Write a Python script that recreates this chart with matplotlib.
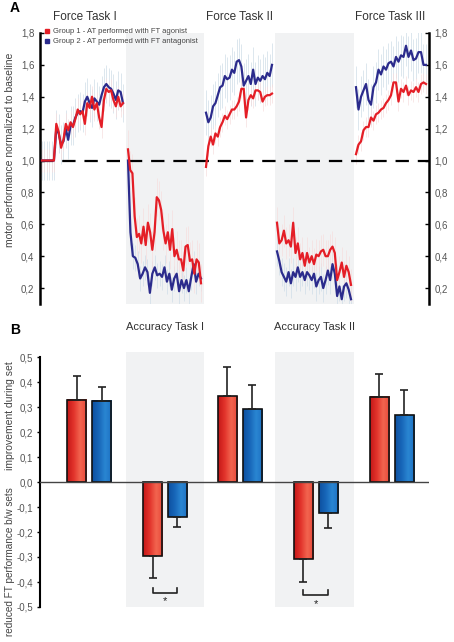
import numpy as np
import matplotlib.pyplot as plt
from matplotlib.colors import LinearSegmentedColormap
from matplotlib.lines import Line2D
from matplotlib.patches import Rectangle
from matplotlib.ticker import FuncFormatter

plt.rcParams['font.family'] = ['Liberation Sans', 'DejaVu Sans']

# ---------------- panel A: motor performance normalized to baseline ----------------
block_edges = [0, 86, 164, 235, 314, 389]
force_titles = ['Force Task I', 'Force Task II', 'Force Task III']

# group 1 (AT with FT agonist), one list per block
g1_blocks = [
    [1.00, 1.00, 1.00, 1.00, 1.00, 1.00, 1.23, 1.18, 1.08, 1.13, 1.23, 1.19, 1.24, 1.21,
     1.26, 1.32, 1.29, 1.31, 1.23, 1.36, 1.33, 1.40, 1.32, 1.36, 1.27, 1.21, 1.38, 1.45,
     1.43, 1.44, 1.38, 1.34, 1.40, 1.34, 1.36],
    [1.07, 0.94, 0.92, 0.65, 0.52, 0.54, 0.48, 0.585, 0.47, 0.61, 0.55, 0.44, 0.55, 0.77,
     0.75, 0.69, 0.56, 0.48, 0.55, 0.44, 0.57, 0.40, 0.44, 0.38, 0.38, 0.31, 0.46, 0.47,
     0.37, 0.38, 0.29, 0.38, 0.36, 0.23],
    [0.96, 1.09, 1.15, 1.10, 1.17, 1.15, 1.21, 1.24, 1.28, 1.26, 1.29, 1.32, 1.32, 1.34,
     1.37, 1.45, 1.45, 1.27, 1.38, 1.41, 1.39, 1.44, 1.44, 1.43, 1.37, 1.40, 1.41, 1.41,
     1.42],
    [0.61, 0.48, 0.50, 0.56, 0.48, 0.50, 0.46, 0.61, 0.42, 0.48, 0.38, 0.42, 0.34, 0.42,
     0.36, 0.40, 0.35, 0.41, 0.40, 0.43, 0.44, 0.40, 0.40, 0.44, 0.46, 0.42, 0.25, 0.30,
     0.36, 0.27, 0.34, 0.30, 0.22],
    [1.04, 1.10, 1.12, 1.19, 1.21, 1.21, 1.27, 1.25, 1.29, 1.30, 1.32, 1.33, 1.36, 1.38,
     1.41, 1.49, 1.49, 1.37, 1.45, 1.43, 1.47, 1.41, 1.44, 1.43, 1.46, 1.43, 1.48, 1.49,
     1.48],
]
# group 2 (AT with FT antagonist)
g2_blocks = [
    [1.00, 1.00, 1.00, 1.00, 1.00, 1.00, 1.20, 1.17, 1.10, 1.12, 1.20, 1.13, 1.22, 1.22,
     1.27, 1.30, 1.31, 1.30, 1.37, 1.40, 1.36, 1.33, 1.39, 1.37, 1.35, 1.41, 1.46, 1.48,
     1.46, 1.45, 1.42, 1.38, 1.44, 1.43, 1.36],
    [1.00, 0.55, 0.40, 0.39, 0.35, 0.26, 0.29, 0.33, 0.30, 0.17, 0.29, 0.33, 0.28, 0.29,
     0.27, 0.33, 0.24, 0.29, 0.19, 0.26, 0.29, 0.18, 0.25, 0.20, 0.25, 0.18, 0.27, 0.35,
     0.24, 0.29, 0.26],
    [1.30, 1.24, 1.27, 1.34, 1.36, 1.41, 1.46, 1.47, 1.53, 1.51, 1.52, 1.57, 1.55, 1.62,
     1.63, 1.59, 1.47, 1.50, 1.53, 1.48, 1.57, 1.48, 1.52, 1.50, 1.53, 1.51, 1.55, 1.53,
     1.60],
    [0.43, 0.37, 0.30, 0.27, 0.24, 0.30, 0.23, 0.30, 0.27, 0.33, 0.27, 0.30, 0.25, 0.30,
     0.28, 0.25, 0.29, 0.21, 0.25, 0.27, 0.20, 0.25, 0.31, 0.25, 0.35, 0.29, 0.15, 0.21,
     0.13, 0.21, 0.23, 0.19, 0.13],
    [1.46, 1.32, 1.40, 1.44, 1.48, 1.38, 1.35, 1.46, 1.49, 1.57, 1.54, 1.59, 1.57, 1.61,
     1.62, 1.59, 1.65, 1.62, 1.66, 1.65, 1.72, 1.65, 1.69, 1.63, 1.64, 1.68, 1.68, 1.60,
     1.60],
]
g1_err = [0.07, 0.12, 0.06, 0.10, 0.06]
g2_err = [0.12, 0.08, 0.14, 0.09, 0.13]

# ---------------- panel B: change in FT performance ----------------
acc_titles = ['Accuracy Task I', 'Accuracy Task II']
bar_centers = [49, 125, 200, 276, 352]
g1_change = [0.33, -0.295, 0.344, -0.308, 0.342]
g1_sem = [0.095, 0.09, 0.116, 0.092, 0.092]
g2_change = [0.325, -0.14, 0.292, -0.125, 0.268]
g2_sem = [0.055, 0.04, 0.098, 0.06, 0.10]

RED = '#e41e26'
NAVY = '#2b2b8c'
SHADE = '#f1f2f3'
comma = FuncFormatter(lambda v, p: ('%.1f' % (round(v, 1) + 0.0)).replace('.', ','))

W, H = 454, 642
fig = plt.figure(figsize=(W / 100, H / 100), dpi=100)

# ---- panel A ----
axA = fig.add_axes([40 / W, 1 - 304 / H, 389 / W, 271 / H])
axA.set_xlim(block_edges[0], block_edges[-1])
axA.set_ylim(0.1, 1.8)
for k in (1, 3):
    axA.axvspan(block_edges[k], block_edges[k + 1], color=SHADE, lw=0, zorder=0)

for k in range(5):
    x1 = np.linspace(block_edges[k] + 2, block_edges[k + 1] - 3, len(g1_blocks[k]))
    x2 = np.linspace(block_edges[k] + 2, block_edges[k + 1] - 3, len(g2_blocks[k]))
    y1 = np.array(g1_blocks[k])
    y2 = np.array(g2_blocks[k])
    axA.vlines(x2, y2 - g2_err[k], y2 + g2_err[k], color='#cfdde8', lw=0.5, zorder=1)
    axA.vlines(x1, y1 - g1_err[k], y1 + g1_err[k], color='#f6dede', lw=0.5, zorder=1)
    axA.plot(x2, y2, color=NAVY, lw=1.6, zorder=3)
    axA.plot(x1, y1, color=RED, lw=1.6, zorder=4)

axA.axhline(1.0, color='black', lw=1.6, dashes=(6, 4), zorder=2)

axA.spines['top'].set_visible(False)
axA.spines['bottom'].set_visible(False)
axA.spines['left'].set_linewidth(1.8)
axA.spines['right'].set_linewidth(1.8)
axA.set_xticks([])
axA.set_yticks(np.arange(0.2, 1.81, 0.2))
axA.yaxis.set_major_formatter(comma)
axA.tick_params(axis='y', left=True, right=True, labelleft=True, labelright=True,
                direction='in', length=3, width=1, labelsize=7, labelcolor='#555555',
                pad=4)

handles = [Line2D([], [], ls='none', marker='s', ms=3, color=RED),
           Line2D([], [], ls='none', marker='s', ms=3, color=NAVY)]
axA.legend(handles, ['Group 1 - AT performed with FT agonist',
                     'Group 2 - AT performed with FT antagonist'],
           loc='upper left', bbox_to_anchor=(0.005, 1.03), frameon=False,
           fontsize=5.5, handlelength=0.6, handletextpad=0.4, labelspacing=0.35,
           borderaxespad=0, labelcolor='#444444')

for xc, t in zip([85, 240, 390], force_titles):
    fig.text(xc / W, 1 - 17 / H, t, ha='center', va='center', fontsize=8.5,
             color='#333333')
fig.text(10 / W, 1 - 150 / H, 'motor performance normalized to baseline', rotation=90,
         ha='center', va='center', fontsize=7.5, color='#444444')
fig.text(10 / W, 1 - 1 / H, 'A', ha='left', va='top', fontsize=10, fontweight='bold')

# ---- panel B ----
axB = fig.add_axes([40 / W, 1 - 607 / H, 389 / W, 255 / H])
axB.set_xlim(block_edges[0], block_edges[-1])
axB.set_ylim(-0.5, 0.52)
for k in (1, 3):
    axB.axvspan(block_edges[k], block_edges[k + 1], color=SHADE, lw=0, zorder=0)

red_cmap = LinearSegmentedColormap.from_list('r', ['#c41818', '#e2332b', '#f2654f', '#e8483a'])
blue_cmap = LinearSegmentedColormap.from_list('b', ['#0d50a0', '#1766b8', '#2a86d2', '#1c70c2'])
grad = np.linspace(0, 1, 64).reshape(1, -1)
bw = 19.5
off = 12.5


def gradient_bar(ax, xc, val, err, cmap):
    x0, x1 = xc - bw / 2, xc + bw / 2
    y0, y1 = min(0, val), max(0, val)
    ax.imshow(grad, extent=[x0, x1, y0, y1], aspect='auto', cmap=cmap, zorder=2,
              interpolation='bicubic')
    ax.add_patch(Rectangle((x0, y0), bw, y1 - y0, fill=False, ec='#111111', lw=1.2,
                           zorder=3))
    sign = 1 if val >= 0 else -1
    ax.errorbar([xc], [val], yerr=[[0], [err]] if sign > 0 else [[err], [0]],
                fmt='none', ecolor='#222222', elinewidth=1.2, capsize=3.2,
                capthick=1.2, zorder=3)


for c, a, ea, b, eb in zip(bar_centers, g1_change, g1_sem, g2_change, g2_sem):
    gradient_bar(axB, c - off, a, ea, red_cmap)
    gradient_bar(axB, c + off, b, eb, blue_cmap)

axB.set_xlim(block_edges[0], block_edges[-1])
axB.set_ylim(-0.5, 0.52)
axB.axhline(0, color='#444444', lw=1.0, zorder=4)

# significance brackets
for c, ytop, ybot, ystar in [(bar_centers[1], -0.425, -0.445, -0.475),
                             (bar_centers[3], -0.432, -0.452, -0.49)]:
    xl, xr = c - off, c + off
    axB.plot([xl, xl, xr, xr], [ytop, ybot, ybot, ytop], color='#222222', lw=1.2,
             zorder=4)
    axB.text(c, ystar, '*', ha='center', va='center', fontsize=8, color='#222222')

for s in ('top', 'right', 'bottom'):
    axB.spines[s].set_visible(False)
axB.spines['left'].set_linewidth(1.5)
axB.spines['left'].set_bounds(-0.5, 0.5)
axB.set_xticks([])
axB.set_yticks(np.arange(-0.5, 0.51, 0.1))
axB.yaxis.set_major_formatter(comma)
axB.tick_params(axis='y', direction='out', length=2, width=1, labelsize=7,
                labelcolor='#555555', pad=3)

for xc, t in zip([165, 315], acc_titles):
    fig.text(xc / W, 1 - 327 / H, t, ha='center', va='center', fontsize=8,
             color='#333333')
fig.text(10 / W, 1 - 416 / H, 'improvement during set', rotation=90, ha='center',
         va='center', fontsize=7.5, color='#444444')
fig.text(10 / W, 1 - 562 / H, 'reduced FT performance b/w sets', rotation=90,
         ha='center', va='center', fontsize=7.2, color='#444444')
fig.text(10 / W, 1 - 330 / H, 'B', ha='left', va='center', fontsize=10, fontweight='bold')

fig.savefig('out.png', dpi=100)
